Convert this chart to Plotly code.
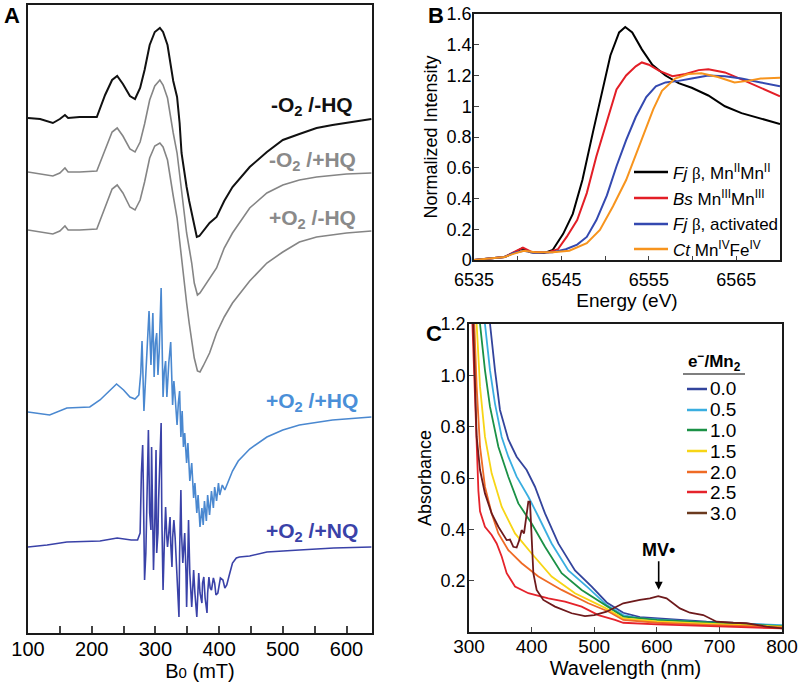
import plotly.graph_objects as go

# ---------------- Panel A: EPR spectra (field in mT, intensity in arb. units incl. offset)
a_black_x = [100, 119, 139, 150, 158, 163, 181, 208, 221, 232, 240, 249, 260, 268, 276, 283, 291, 299, 307, 312,
             319, 323, 328, 334, 338, 341, 345, 349, 353, 357, 361, 365, 369, 373, 385, 396, 408, 421, 448, 475,
             500, 526, 553, 578, 610, 639]
a_black_y = [515, 514, 510, 514, 518, 515, 516, 516, 538, 553, 557, 549, 537, 534, 545, 563, 588, 601, 605, 601,
             588, 570, 552, 536, 510, 480, 462, 446, 432, 420, 408, 396, 397, 400, 410, 416, 432, 446, 466, 481,
             493, 499, 505, 508, 511, 514]

a_gray_x = [100, 119, 139, 150, 158, 163, 181, 208, 221, 232, 240, 249, 260, 268, 276, 283, 291, 299, 307, 312,
            319, 323, 328, 334, 338, 341, 345, 349, 353, 357, 361, 366, 370, 375, 385, 396, 408, 421, 448, 475,
            500, 526, 553, 600, 639]
a_minus_o2_hq = [461, 459, 457, 460, 465, 461, 461, 462, 484, 501, 505, 497, 484, 481, 491, 509, 533, 547, 553, 548,
                 535, 518, 500, 480, 458, 440, 420, 400, 385, 370, 350, 338, 340, 345, 355, 365, 385, 400, 425, 440,
                 448, 453, 456, 459, 460]
a_plus_o2_nohq = [403, 401, 399, 402, 407, 403, 403, 404, 426, 444, 448, 440, 426, 423, 433, 451, 475, 487, 490, 486,
                  473, 456, 437, 415, 392, 372, 350, 330, 310, 292, 275, 262, 261, 267, 280, 300, 316, 330, 352, 370,
                  381, 391, 396, 400, 402]

a_hq_x = [100, 134, 161, 197, 213, 225, 239, 250, 260, 268, 274, 277, 279, 282, 286, 290, 293, 296, 298, 300,
          302, 304, 306, 309, 312, 314, 316, 318, 321, 324, 327, 329, 331, 334, 336, 338, 340, 342, 344, 346,
          349, 351, 354, 357, 360, 362, 365, 367, 370, 373, 375, 377, 380, 382, 385, 388, 391, 393, 396, 399,
          401, 405, 409, 415, 421, 430, 448, 475, 500, 526, 578, 639]
a_hq_y = [221, 218, 225, 226, 233, 240, 249, 243, 236, 234, 238, 260, 292, 222, 280, 322, 268, 320, 256, 290,
          300, 258, 282, 345, 236, 262, 272, 236, 270, 291, 228, 252, 236, 208, 230, 242, 196, 222, 186, 200,
          170, 190, 152, 170, 135, 150, 120, 138, 106, 125, 108, 132, 112, 138, 118, 142, 125, 146, 132, 150,
          138, 148, 143, 152, 162, 172, 184, 196, 203, 208, 213, 216]

a_nq_x = [100, 130, 161, 213, 240, 262, 272, 276, 278, 280, 281, 283, 285, 287, 289, 291, 293, 294, 296, 297,
          299, 301, 302, 304, 305, 307, 309, 310, 312, 314, 316, 318, 319, 321, 323, 324, 326, 327, 329, 331,
          333, 335, 337, 338, 340, 341, 343, 345, 346, 348, 349, 351, 352, 354, 357, 359, 360, 362, 365, 367,
          368, 370, 373, 374, 376, 378, 381, 382, 384, 386, 388, 391, 393, 395, 398, 402, 406, 409, 412, 416,
          421, 427, 432, 448, 475, 526, 580, 639]
a_nq_y = [86, 88, 91, 92, 95, 93, 93, 100, 160, 188, 150, 53, 80, 140, 203, 120, 103, 186, 120, 63,
          110, 183, 80, 100, 133, 170, 210, 120, 43, 90, 126, 95, 86, 100, 116, 90, 66, 95, 113, 95,
          73, 40, 16, 80, 143, 100, 70, 90, 100, 60, 26, 80, 113, 60, 26, 50, 63, 40, 16, 45,
          60, 40, 30, 50, 56, 35, 20, 40, 56, 45, 43, 55, 50, 38, 40, 55, 53, 45, 48, 58,
          70, 75, 76, 77, 81, 83, 85, 86]

a_labels = ["-O<sub>2</sub> /-HQ", "-O<sub>2</sub> /+HQ", "+O<sub>2</sub> /-HQ",
            "+O<sub>2</sub> /+HQ", "+O<sub>2</sub> /+NQ"]

# ---------------- Panel B: XANES (energy eV, normalized intensity)
b_fj_x = [6535, 6537, 6538.5, 6539.5, 6540.5, 6541.5, 6543, 6544, 6545.2, 6546.3, 6547.4, 6548.6, 6549.7, 6550.6,
          6551.6, 6552.3, 6553.1, 6554.2, 6555.4, 6556.9, 6558.4, 6559.9, 6561.8, 6563.7, 6565.6, 6567.5, 6570]
b_fj_y = [0, 0.01, 0.02, 0.045, 0.075, 0.05, 0.045, 0.065, 0.17, 0.30, 0.52, 0.83, 1.11, 1.33,
          1.48, 1.515, 1.48, 1.37, 1.27, 1.20, 1.15, 1.12, 1.07, 1.00, 0.955, 0.925, 0.885]
b_bs_x = [6535, 6537, 6538.5, 6539.5, 6540.6, 6541.7, 6543.5, 6544.6, 6545.6, 6546.8, 6547.9, 6549.0, 6550.2, 6551.3,
          6552.4, 6553.5, 6554.2, 6555.0, 6556.2, 6557.7, 6559.2, 6560.7, 6561.8, 6563.7, 6565.6, 6567.8, 6570]
b_bs_y = [0, 0.01, 0.02, 0.05, 0.08, 0.05, 0.05, 0.07, 0.15, 0.26, 0.435, 0.675, 0.91, 1.11,
          1.20, 1.26, 1.285, 1.27, 1.23, 1.195, 1.21, 1.235, 1.24, 1.22, 1.175, 1.12, 1.065]
b_act_x = [6535, 6537, 6538.5, 6539.5, 6540.7, 6542, 6544, 6545.5, 6546.8, 6547.9, 6549.0, 6550.2, 6551.3, 6552.4,
           6553.5, 6554.7, 6555.8, 6556.9, 6558.4, 6559.9, 6561.8, 6563.7, 6565.6, 6567.8, 6570]
b_act_y = [0, 0.01, 0.02, 0.045, 0.06, 0.045, 0.05, 0.07, 0.10, 0.15, 0.26, 0.42, 0.61, 0.78,
           0.93, 1.06, 1.13, 1.155, 1.165, 1.18, 1.20, 1.195, 1.18, 1.155, 1.13]
b_ct_x = [6535, 6537, 6538.5, 6539.5, 6540.7, 6542, 6544, 6545.9, 6547.9, 6549.4, 6550.9, 6552.4, 6553.5, 6554.7,
          6555.5, 6556.5, 6558.0, 6559.5, 6561.0, 6562.9, 6564.8, 6566.3, 6567.8, 6570]
b_ct_y = [0, 0.01, 0.02, 0.04, 0.06, 0.05, 0.05, 0.06, 0.11, 0.196, 0.35, 0.52, 0.68, 0.86,
          0.98, 1.10, 1.18, 1.21, 1.215, 1.19, 1.155, 1.165, 1.18, 1.185]
b_names = ["<i>Fj</i> <span style='font-family:Liberation Serif'>β</span>, Mn<sup>II</sup>Mn<sup>II</sup>",
           "<i>Bs</i> Mn<sup>III</sup>Mn<sup>III</sup>",
           "<i>Fj</i> <span style='font-family:Liberation Serif'>β</span>, activated",
           "<i>Ct</i> Mn<sup>IV</sup>Fe<sup>IV</sup>"]

# ---------------- Panel C: UV-vis titration (wavelength nm, absorbance)
c_00_x = [330, 333.6, 341.5, 349.5, 362.8, 376.1, 392.1, 405.4, 421.4, 442.7, 469.3, 496, 520, 546.4, 573, 626.3, 679.5, 732.7, 800]
c_00_y = [1.3, 1.2, 1.02, 0.865, 0.75, 0.683, 0.631, 0.566, 0.462, 0.345, 0.24, 0.177, 0.115, 0.075, 0.058, 0.049, 0.04, 0.034, 0.023]
c_05_x = [323, 325.5, 333.5, 341.5, 352.2, 362.8, 376.1, 394.8, 410.8, 432, 458.7, 490.6, 520, 546.4, 573, 679.5, 800]
c_05_y = [1.3, 1.2, 1.02, 0.89, 0.76, 0.683, 0.605, 0.527, 0.45, 0.345, 0.24, 0.172, 0.105, 0.066, 0.053, 0.036, 0.027]
c_10_x = [315, 317.6, 325.5, 333.5, 346.9, 362.8, 378.8, 400.1, 421.4, 448, 480, 522.6, 546.4, 600, 679.5, 800]
c_10_y = [1.3, 1.2, 1.02, 0.878, 0.722, 0.605, 0.501, 0.423, 0.332, 0.229, 0.164, 0.098, 0.06, 0.047, 0.038, 0.023]
c_15_x = [310, 312.2, 317.6, 325.5, 336.2, 352.2, 373.5, 400.1, 432, 469.3, 517.3, 546.4, 600, 679.5, 800]
c_15_y = [1.3, 1.2, 0.956, 0.761, 0.618, 0.488, 0.384, 0.306, 0.216, 0.151, 0.094, 0.053, 0.041, 0.033, 0.021]
c_20_x = [307, 308.5, 312.2, 317.6, 325.5, 336.2, 346.9, 362.8, 384.1, 410.8, 448, 490.6, 522.6, 546.4, 600, 679.5, 800]
c_20_y = [1.3, 1.2, 0.956, 0.722, 0.566, 0.462, 0.384, 0.319, 0.268, 0.216, 0.164, 0.112, 0.08, 0.047, 0.036, 0.028, 0.018]
c_25_x = [304, 305.3, 308.5, 312.2, 315, 317.6, 325.5, 336.2, 344.2, 352.2, 360.2, 373.5, 394.8, 426.7, 453.4, 480, 506.6,
          533.2, 546.4, 600, 679.5, 800]
c_25_y = [1.3, 1.2, 0.956, 0.696, 0.55, 0.47, 0.41, 0.378, 0.345, 0.294, 0.229, 0.177, 0.151, 0.131, 0.118, 0.099, 0.066,
          0.047, 0.036, 0.03, 0.024, 0.014]
c_30_x = [305.5, 306.9, 309.6, 312.2, 317.6, 325.5, 336.2, 346.9, 360.2, 365.5, 370.8, 376.1, 380.4, 384.1, 387.9, 391.1,
          394.8, 397.4, 400.1, 402.8, 408.1, 418.7, 437.4, 464, 485.3, 500, 519.8, 546.4, 573, 589, 602.3, 615.6,
          636.9, 652.9, 674.2, 695.5, 722.1, 743.4, 775.3, 800]
c_30_y = [1.3, 1.2, 0.956, 0.761, 0.631, 0.54, 0.462, 0.41, 0.358, 0.36, 0.332, 0.329, 0.358, 0.397, 0.384, 0.436,
          0.508, 0.508, 0.384, 0.229, 0.164, 0.125, 0.099, 0.073, 0.062, 0.066, 0.079, 0.112, 0.125, 0.131, 0.14, 0.131,
          0.092, 0.075, 0.066, 0.04, 0.036, 0.034, 0.021, 0.014]
c_names = ["0.0", "0.5", "1.0", "1.5", "2.0", "2.5", "3.0"]
c_colors = ["#33449c", "#3aaee0", "#1b9146", "#f7d516", "#ef6b25", "#e5232b", "#6e1a1c"]
c_legend_colors = ["#33449c", "#3aaee0", "#1b9146", "#f7d516", "#ef6b25", "#e5232b", "#6b3a1e"]

FONT = "Liberation Sans, Arial, sans-serif"


def X(p):
    return p / 800


def Y(p):
    return 1 - p / 692


fig = go.Figure()

# panel A traces
a_colors = ["#111111", "#858585", "#858585", "#4a88d0", "#3a42a8"]
a_sets = [(a_black_x, a_black_y), (a_gray_x, a_minus_o2_hq), (a_gray_x, a_plus_o2_nohq),
          (a_hq_x, a_hq_y), (a_nq_x, a_nq_y)]
for (xs, ys), col, w in zip(a_sets, a_colors, [2, 1.6, 1.6, 1.6, 1.6]):
    fig.add_trace(go.Scatter(x=xs, y=ys, mode="lines", line=dict(color=col, width=w),
                             xaxis="x", yaxis="y"))

# panel B traces
b_colors = ["#000000", "#e31e26", "#3449b0", "#f7941d"]
for (xs, ys), col in zip([(b_fj_x, b_fj_y), (b_bs_x, b_bs_y), (b_act_x, b_act_y), (b_ct_x, b_ct_y)], b_colors):
    fig.add_trace(go.Scatter(x=xs, y=ys, mode="lines", line=dict(color=col, width=2),
                             xaxis="x2", yaxis="y2"))

# panel C traces
c_sets = [(c_00_x, c_00_y), (c_05_x, c_05_y), (c_10_x, c_10_y), (c_15_x, c_15_y),
          (c_20_x, c_20_y), (c_25_x, c_25_y), (c_30_x, c_30_y)]
for (xs, ys), col in zip(c_sets, c_colors):
    fig.add_trace(go.Scatter(x=xs, y=ys, mode="lines", line=dict(color=col, width=1.8),
                             xaxis="x3", yaxis="y3"))

frame = dict(showline=True, mirror=True, linecolor="#1a1a1a", linewidth=1.5,
             showgrid=False, zeroline=False, automargin=False)

fig.update_layout(
    width=800, height=692, margin=dict(l=0, r=0, t=0, b=0),
    plot_bgcolor="white", paper_bgcolor="white", showlegend=False,
    font=dict(family=FONT, color="black"),
    xaxis=dict(domain=[X(28), X(372)], range=[100, 640], anchor="y", tick0=100, dtick=100,
               ticks="inside", ticklen=7, tickwidth=1.5, tickfont=dict(size=20), ticklabelstandoff=-3,
               minor=dict(dtick=50, ticks="inside", ticklen=7, tickwidth=1.5),
               title=dict(text="B<span style='font-size:15px'>0</span> (mT)", font=dict(size=20), standoff=4),
               **frame),
    yaxis=dict(domain=[Y(633), Y(5)], range=[0, 628], anchor="x", showticklabels=False, ticks="", **frame),
    xaxis2=dict(domain=[X(474), X(780)], range=[6535, 6570], anchor="y2", tick0=6535, dtick=10,
                ticks="inside", ticklen=4, tickwidth=1.2, tickfont=dict(size=18), ticklabelstandoff=3,
                minor=dict(dtick=5, ticks="inside", ticklen=4, tickwidth=1.2),
                title=dict(text="Energy (eV)", font=dict(size=19), standoff=0), **frame),
    yaxis2=dict(domain=[Y(260), Y(14)], range=[0, 1.6], anchor="x2", dtick=0.2,
                ticks="inside", ticklen=5, tickwidth=1.2, tickfont=dict(size=18), ticklabelstandoff=-3,
                title=dict(text="Normalized Intensity", font=dict(size=18), standoff=4), **frame),
    xaxis3=dict(domain=[X(469), X(782)], range=[300, 800], anchor="y3", dtick=100,
                ticks="inside", ticklen=5, tickwidth=1.2, tickfont=dict(size=19), ticklabelstandoff=-4,
                title=dict(text="Wavelength (nm)", font=dict(size=20), standoff=0), **frame),
    yaxis3=dict(domain=[Y(632), Y(324)], range=[0, 1.2], anchor="x3",
                tickvals=[0.2, 0.4, 0.6, 0.8, 1.0, 1.2], tickformat=".1f",
                ticks="inside", ticklen=5, tickwidth=1.2, tickfont=dict(size=18), ticklabelstandoff=-2,
                title=dict(text="Absorbance", font=dict(size=18), standoff=4), **frame),
)

ann = []
shapes = []

# panel letters
for t, x, y in [("A", 12, 16), ("B", 436, 16), ("C", 434, 333)]:
    ann.append(dict(text="<b>%s</b>" % t, x=X(x), y=Y(y), xref="paper", yref="paper",
                    xanchor="center", yanchor="middle",
                    showarrow=False, font=dict(size=22, family=FONT)))

# panel A sample labels
a_label_colors = ["#111111", "#8a8a8a", "#8a8a8a", "#4a8fd8", "#3a42a8"]
for t, col, y in zip(a_labels, a_label_colors, [106, 161, 219, 402, 532]):
    ann.append(dict(text="<b>%s</b>" % t, x=X(312), y=Y(y), xref="paper", yref="paper",
                    xanchor="center", yanchor="middle",
                    showarrow=False, font=dict(size=21, color=col, family=FONT)))

# panel B legend
for name, col, y in zip(b_names, b_colors, [172, 198, 224, 249]):
    shapes.append(dict(type="line", xref="paper", yref="paper", x0=X(634), x1=X(668), y0=Y(y), y1=Y(y),
                       line=dict(color=col, width=2.5)))
    ann.append(dict(text=name, x=X(671), y=Y(y), xref="paper", yref="paper", xanchor="left",
                    yanchor="middle", showarrow=False, font=dict(size=17, family=FONT)))

# panel C legend
ann.append(dict(text="<b>e<sup>−</sup>/Mn<sub>2</sub></b>", x=X(714), y=Y(361), xref="paper", yref="paper",
                xanchor="center", yanchor="middle", showarrow=False, font=dict(size=17, family=FONT)))
shapes.append(dict(type="line", xref="paper", yref="paper", x0=X(683), x1=X(745), y0=Y(374), y1=Y(374),
                   line=dict(color="black", width=1.2)))
for name, col, y in zip(c_names, c_legend_colors, [389, 410, 430, 451, 472, 492, 513]):
    shapes.append(dict(type="line", xref="paper", yref="paper", x0=X(687), x1=X(707), y0=Y(y), y1=Y(y),
                       line=dict(color=col, width=2.5)))
    ann.append(dict(text=name, x=X(708), y=Y(y), xref="paper", yref="paper", xanchor="left",
                    yanchor="middle", showarrow=False, font=dict(size=19, family=FONT)))

# MV radical marker
ann.append(dict(text="<b>MV•</b>", x=603, y=0.165, xref="x3", yref="y3", ax=0, ay=-40,
                showarrow=True, arrowhead=2, arrowsize=1, arrowwidth=1.6, arrowcolor="black",
                font=dict(size=18, family=FONT)))

fig.update_layout(annotations=ann, shapes=shapes)

# page body has a default 8px margin; drop it so the figure fills the window
fig.write_html("out.html", config={"displayModeBar": False},
               post_script="document.body.style.margin='0';")
